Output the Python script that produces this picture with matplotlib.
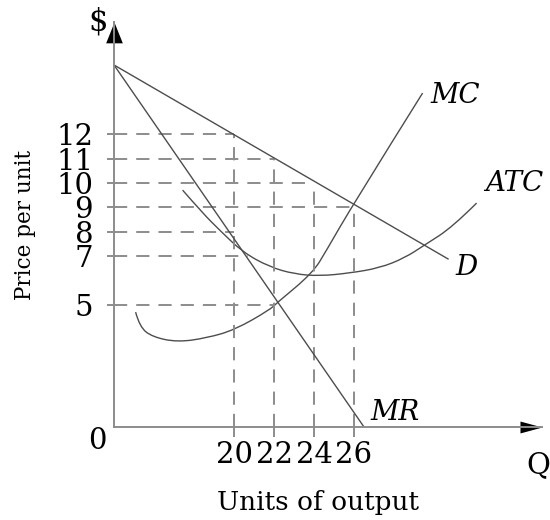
import matplotlib.pyplot as plt
from matplotlib.path import Path
from matplotlib.patches import PathPatch

plt.rcParams['font.family'] = 'DejaVu Serif'
plt.rcParams['lines.scale_dashes'] = False

# price levels marked on the y axis, and the quantity where each dashed guide stops
price_levels = [12, 11, 10, 9, 8, 7, 5]
guide_end_q = [20, 22, 24, 26, 20, 20.7, 22]

# quantities marked on the x axis, and the price where each vertical guide stops
quantities = [20, 22, 24, 26]
guide_top_p = [12, 11, 10, 9]

# curves
demand_q = [14.0, 30.7]
demand_p = [14.84, 6.89]
mr_q = [14.0, 26.5]
mr_p = [14.84, 0.0]
mc_q = [15.08, 15.28, 15.93, 17.18, 18.63, 20.03, 21.78, 22.13, 23.93, 24.63, 25.93, 29.43]
mc_p = [4.71, 4.10, 3.69, 3.48, 3.65, 3.98, 4.80, 5.08, 6.31, 7.25, 9.10, 13.69]
atc_q = [17.43, 18.43, 19.28, 20.43, 21.78, 23.03, 24.28, 25.78, 27.28, 28.53, 29.53, 30.93, 32.13]
atc_p = [9.71, 8.77, 8.07, 7.17, 6.56, 6.27, 6.19, 6.31, 6.52, 6.93, 7.46, 8.20, 9.18]

curve_color = '#4d4d4d'
guide_color = '#8c8c8c'
dash = (0, (9.5, 6.5))


def smooth_curve(xs, ys):
    # quadratic bezier through the midpoints, read points act as control points
    pts = list(zip(xs, ys))
    verts = [pts[0]]
    codes = [Path.MOVETO]
    for i in range(1, len(pts) - 1):
        if i < len(pts) - 2:
            end = ((pts[i][0] + pts[i + 1][0]) / 2, (pts[i][1] + pts[i + 1][1]) / 2)
        else:
            end = pts[-1]
        verts += [pts[i], end]
        codes += [Path.CURVE3, Path.CURVE3]
    return PathPatch(Path(verts, codes), fill=False, edgecolor=curve_color, lw=1.0)


fig = plt.figure(figsize=(5.5, 5.2), dpi=100)
ax = fig.add_axes([0.2073, 0.1788, 0.7782, 0.7788])
ax.set_xlim(14, 35.4)
ax.set_ylim(0, 16.6)

for side in ['top', 'right']:
    ax.spines[side].set_visible(False)
for side in ['left', 'bottom']:
    ax.spines[side].set_color(guide_color)
    ax.spines[side].set_linewidth(1.4)

# dashed guides
for p, q_end in zip(price_levels, guide_end_q):
    ax.plot([14, q_end], [p, p], ls=dash, color=guide_color, lw=1.4)
for q, p_top in zip(quantities, guide_top_p):
    ax.plot([q, q], [0, p_top], ls=dash, color=guide_color, lw=1.4)

# curves
ax.plot(demand_q, demand_p, color=curve_color, lw=1.0)
ax.plot(mr_q, mr_p, color=curve_color, lw=1.0)
ax.add_patch(smooth_curve(mc_q, mc_p))
ax.add_patch(smooth_curve(atc_q, atc_p))

# ticks
ax.set_xticks(quantities)
ax.set_xticklabels([str(q) for q in quantities])
ax.set_yticks(price_levels)
ax.set_yticklabels([str(p) for p in price_levels])
ax.tick_params(axis='both', colors=guide_color, labelcolor='black', width=1.4, direction='out')
ax.tick_params(axis='x', length=7, pad=3, labelsize=21)
ax.tick_params(axis='y', length=5, pad=10, labelsize=21)

# arrow heads
ax.plot([0], [1], transform=ax.transAxes, marker=[(0, 0), (-0.4, -1), (0.4, -1), (0, 0)],
        ms=30, mew=0, color='black', clip_on=False)
ax.plot([1], [0], transform=ax.transAxes, marker=[(0, 0), (-1, 0.27), (-1, -0.27), (0, 0)],
        ms=31.7, mew=0, color='black', clip_on=False)

# labels
ax.text(13.2, 16.6, '$', fontsize=22, ha='center', va='center')
ax.text(13.15, -0.57, '0', fontsize=21, ha='center', va='center')
ax.text(35.2, -1.56, 'Q', fontsize=21, ha='center', va='center')
ax.text(29.8, 13.57, 'MC', fontsize=20, style='italic', ha='left', va='center')
ax.text(32.55, 10.0, 'ATC', fontsize=20, style='italic', ha='left', va='center')
ax.text(31.05, 6.52, 'D', fontsize=20, style='italic', ha='left', va='center')
ax.text(26.8, 0.61, 'MR', fontsize=20, style='italic', ha='left', va='center')
ax.text(24.2, -3.11, 'Units of output', fontsize=19, ha='center', va='center')
ax.text(9.55, 8.28, 'Price per unit', fontsize=15.5, rotation=90, ha='center', va='center')

fig.savefig('out.png', dpi=100)
